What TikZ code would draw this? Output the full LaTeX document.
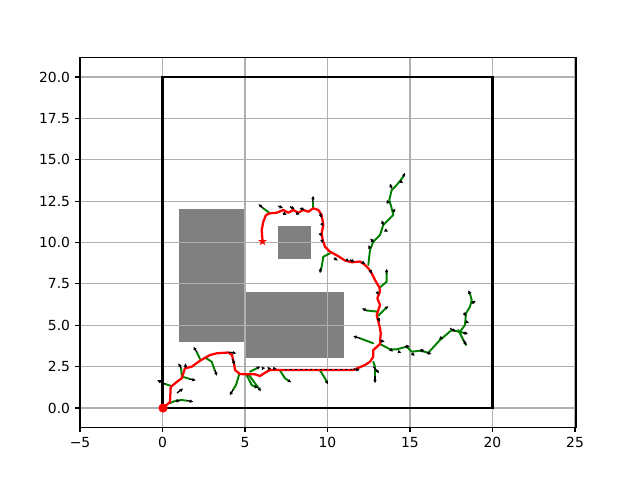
\documentclass[tikz,border=0pt]{standalone}
\usepackage{fontspec}
\setmainfont{DejaVu Sans}
\usetikzlibrary{arrows.meta,shapes.geometric}
\definecolor{mgreen}{HTML}{008000}
\definecolor{mgrid}{HTML}{B0B0B0}
\definecolor{mgray}{HTML}{808080}
\begin{document}
\begin{tikzpicture}[x=0.75pt,y=-0.75pt,
  gridline/.style={draw=mgrid, line width=0.83pt},
  obst/.style={fill=mgray, draw=none},
  branch/.style={draw=mgreen, line width=1.45pt, line join=round, line cap=round},
  pathline/.style={draw=red, line width=1.7pt, line join=round, line cap=round},
  head/.style={draw=black, line width=1pt, -{Latex[length=2.8pt,width=2.8pt]}},
  ticklab/.style={font=\fontsize{10.42}{12}\selectfont, inner sep=0pt},
]
\useasboundingbox (0,0) rectangle (640,480);
\fill[white] (0,0) rectangle (640,480);
% obstacles
\fill[obst] (179,209.4) rectangle (245,341.8);
\fill[obst] (245,292.2) rectangle (344,358.4);
\fill[obst] (278,226) rectangle (311,259);
% grid
\foreach \x in {80,162.5,245,327.5,410,492.5,575}
  \draw[gridline] (\x,57.6) -- (\x,427.2);
\foreach \y in {408,366.6,325.25,283.9,242.5,201.1,159.75,118.4,77}
  \draw[gridline] (80,\y) -- (576,\y);
% boundary
\draw[line width=1.56pt] (162.5,408) rectangle (492.5,77);
% tree branches
\draw[branch] (170,403) -- (175,401) -- (181.7,400) -- (187,400.7);
\draw[branch] (170,385.5) -- (165,384);
\draw[branch] (182,377) -- (181,368);
\draw[branch] (183.3,377) -- (190,379);
\draw[branch] (200,359) -- (196.7,352);
\draw[branch] (205,357.5) -- (211.7,361.7) -- (215,371);
\draw[branch] (239.3,374) -- (236,385) -- (233,390);
\draw[branch] (246.7,375) -- (251.7,385) -- (255,386.7);
\draw[branch] (248.3,374) -- (255,383.3) -- (259,388.5);
\draw[branch] (250,371.7) -- (256.7,368.3);
\draw[branch] (280,370.5) -- (285,378.3) -- (289,381);
\draw[branch] (320,370.5) -- (325,378.3) -- (326.5,381.5);
\draw[branch] (373.3,361.7) -- (375,366.7) -- (375,376);
\draw[branch] (373.3,343.3) -- (360,338.3);
\draw[branch] (380,344) -- (390,349.3) -- (396.7,349.3) -- (406.7,346.7) -- (411.7,351.7) -- (420,350.7) -- (428.3,352.7) -- (440,340) -- (451.7,330) -- (460,332) -- (466,333.3);
\draw[branch] (460,331.7) -- (465,325) -- (466,313.3) -- (470,306.7) -- (471.7,300) -- (470,294);
\draw[branch] (458.3,330) -- (463.3,340) -- (466,345);
\draw[branch] (368.3,265) -- (370,250) -- (373.3,241.7) -- (380,235) -- (383.3,225) -- (393.3,215) -- (391.7,208.3) -- (389.3,200) -- (391.7,190) -- (396.7,185) -- (403.3,176.7);
\draw[branch] (380,287.3) -- (386.7,281.7) -- (386.7,271);
\draw[branch] (378.3,311.7) -- (366.7,310.5);
\draw[branch] (378,316) -- (386,308);
\draw[branch] (270,213.3) -- (263.3,208.3);
\draw[branch] (312.7,208.5) -- (312.7,201.7);
\draw[branch] (330,253.3) -- (323.3,256.7) -- (321.7,266.7) -- (320.5,271);
% solution path
\draw[pathline] (163,408) -- (170,402) -- (170.7,387) -- (176.7,382) -- (181.7,378.3) -- (185,368.3) -- (191.7,366.7) -- (200,360.7) -- (210,355) -- (216.7,353.3) -- (228.3,352.5) -- (232,355) -- (234,363.3) -- (235,370) -- (240,374) -- (246.7,374.3) -- (255,374.3) -- (260,376) -- (265,372.7) -- (270,370) -- (353.3,370) -- (365,365) -- (370,361.7) -- (373.3,356.7) -- (373.3,350) -- (380,344) -- (380.7,333.3) -- (380,328) -- (378.3,321.7) -- (376.7,315) -- (380,305) -- (377.3,298.3) -- (380,291.7) -- (379.3,287.3) -- (375,280) -- (371.7,273.3) -- (368.3,268.3) -- (365,265) -- (360,261.5) -- (352,262.3) -- (345,260.5) -- (338,256) -- (330,251.7) -- (325,246.7) -- (322.7,240) -- (321.7,233.3) -- (323.3,225) -- (321.7,215) -- (318.3,210) -- (313.3,208.3) -- (308.3,211.7) -- (303.3,210) -- (298.3,212.7) -- (293.3,210) -- (288.3,212.7) -- (283.3,210) -- (276.7,212.7) -- (270,213.3) -- (266,215) -- (263.3,221.7) -- (261.7,230) -- (262.5,241);
% headings
\foreach \a/\b/\c/\d in {
 176/401/180.5/400.2, 187/400.7/193.5/401.7, 165/384/157/380, 177/393/183.3/388.3,
 181/368/178.3/363, 185.5/367.5/185.5/363, 190/379/196/380.5, 196.7/352/193.3/346.5,
 215/370/217/376, 229/352.2/236.5/353.3, 232.3/359/235/365, 233/390/229.5/395.5,
 255/386.7/258.5/387.5, 259/388.5/261/391.5, 256.7/368.3/260.5/366.5, 262/368.3/265.5/368,
 268/368.5/271.5/368.3, 273/368.5/277/368.5, 289/381/291.5/382.5, 326.5/381.5/328/384.5,
 353.3/369.3/360/370, 375/376/375/383.5, 373.3/366.7/379.3/373.3, 360/338.3/353/336,
 380/340.7/385/341.7, 390/349.3/393.3/351.7, 398.3/351.7/401.7/352.7, 405/346.7/410/346,
 411.7/353.3/415/356, 420/350/425/351, 426.7/352.7/431.7/354, 440/337.5/443.3/339.3,
 450/328.3/456/331.7, 463.3/332.7/468.3/334, 463.3/340/466.7/345.5, 466/321.7/469.3/323.3,
 464/312.7/466/316.7, 471.7/303.3/476/300.7, 470/294/468.3/290, 386.7/274/386.7/268.5,
 366.7/310.5/361.7/308.3, 386/308/388.6/306,
 403.3/176.7/405/172.5, 400/181/403.3/183.3, 391.5/188.5/390/183.3, 388.3/203.3/386.7/199.5,
 393.3/211.7/395.5/208.3, 383.3/225/381.7/220, 385/230/388.3/231.7, 373.3/241.7/370/238.3,
 370/248.3/368.3/245,
 263.3/208.3/258.3/204, 312.7/201.7/313.3/195.5, 278.3/206/283.3/208.3, 290/206.7/295/209.3,
 300/208.3/305/210, 283/213/287/215, 296/213/300/214.5, 320/213.3/321.7/218.3,
 321.7/223.3/323.3/226.7, 320/233.3/321.7/236.7, 321.7/240/323.3/243.3, 320.7/268/320/273.5,
 334/258/338/260.7, 350/260/355/262, 362/262/365.5/264, 370/270/372/274,
 377/292/379/295, 378/318/380/322, 346/259.5/349.5/261.5}
  \draw[head] (\a,\b) -- (\c,\d);
\foreach \x in {285,290,...,350}
  \draw[black, line width=0.6pt] (\x,369) -- (\x+1.5,369);
% markers
\fill[red] (163,408) circle (4.6);
\node[star, star points=5, star point ratio=2.6, fill=red, inner sep=0pt, minimum size=7pt] (goal) at (262.5,241.5) {};
% axes frame
\draw[line width=0.83pt] (80,57.6) rectangle (576,427.2);
\foreach \x/\l in {80/−5,162.5/0,245/5,327.5/10,410/15,492.5/20,575/25}{
  \draw[line width=0.83pt] (\x,427.2) -- (\x,432.1);
  \node[ticklab, anchor=north] at (\x,437) {\l};
}
\foreach \y/\l in {408/0.0,366.6/2.5,325.25/5.0,283.9/7.5,242.5/10.0,201.1/12.5,159.75/15.0,118.4/17.5,77/20.0}{
  \draw[line width=0.83pt] (80,\y) -- (75.1,\y);
  \node[ticklab, anchor=east] at (70.3,\y) {\l};
}
\end{tikzpicture}
\end{document}
